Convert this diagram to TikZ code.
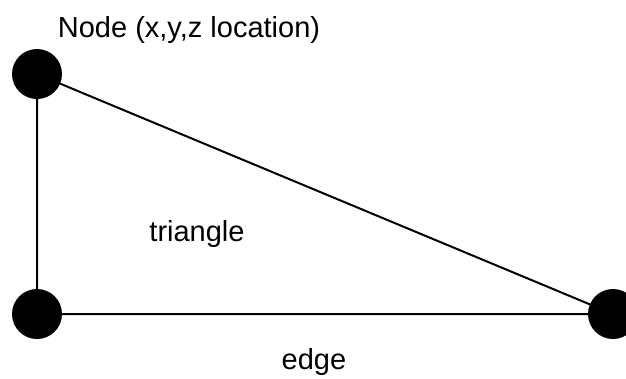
\documentclass[tikz,border=0pt]{standalone}
\usepackage{fontspec}
\setmainfont{Liberation Sans}
\usetikzlibrary{positioning}

\begin{document}
\begin{tikzpicture}[x=1pt,y=-1pt,
  vertex/.style={circle,fill=black,minimum size=50pt,inner sep=0pt},
  lbl/.style={font=\fontsize{29}{34}\selectfont,inner sep=0pt}]
\useasboundingbox (0,0) rectangle (626,378);
\node[vertex] (top) at (37,74) {};
\node[vertex] (bl) at (37,314) {};
\node[vertex] (br) at (613,314) {};
\draw[line width=2pt] (top.center)--(bl.center)--(br.center)--(top.center);
\node[lbl] (nodetxt) at (189,30) {Node (x,y,z location)};
\node[lbl] (tri) at (197,234) {triangle};
\node[lbl] (edge) at (314,362) {edge};
\end{tikzpicture}
\end{document}
